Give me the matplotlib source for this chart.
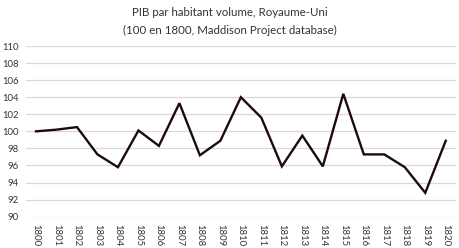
import numpy as np
from matplotlib import pyplot as plt

years = [str(y) for y in range(1800, 1821)]
gdp_index = [100.0, 100.2, 100.5, 97.3, 95.8, 100.1, 98.3, 103.3, 97.2, 98.9, 104.0,
             101.6, 95.9, 99.5, 95.9, 104.4, 97.3, 97.3, 95.8, 92.8, 98.9]
y_ticks = list(range(90, 111, 2))

plt.rcParams['font.family'] = ['Lato', 'DejaVu Sans']

fig = plt.figure(figsize=(4.6, 2.48), dpi=100)
ax = fig.add_axes([25.75 / 460, 1 - 216.7 / 248, (456 - 25.75) / 460, (216.7 - 46) / 248])

x = np.arange(len(years))
ax.plot(x, gdp_index, color='#1e0a0a', lw=1.7, solid_joinstyle='miter', zorder=3)

ax.set_xlim(-0.5, len(years) - 0.5)
ax.set_ylim(90, 110)
ax.set_yticks(y_ticks)
ax.set_xticks(x)
ax.set_xticklabels(years, rotation=270, fontsize=6.8, color='#333333')
ax.tick_params(axis='y', labelsize=6.8, labelcolor='#333333', length=0, pad=5)
ax.tick_params(axis='x', length=0, pad=5)
ax.grid(axis='y', color='#d9d9d9', lw=0.9)
ax.set_axisbelow(True)
for s in ax.spines.values():
    s.set_visible(False)

fig.text(0.5, 1 - 12 / 248, "PIB par habitant volume, Royaume-Uni", ha='center', va='center',
         fontsize=8.3, color='#333333')
fig.text(0.5, 1 - 30 / 248, "(100 en 1800, Maddison Project database)", ha='center', va='center',
         fontsize=8.3, color='#333333')

fig.savefig("out.png", dpi=100)
